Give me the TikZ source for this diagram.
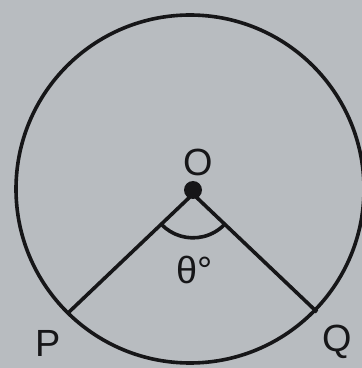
\documentclass[tikz,border=0pt]{standalone}
\usepackage{fontspec}
\setmainfont{Liberation Sans}
\usetikzlibrary{angles}
\definecolor{bg}{RGB}{184,188,192}
\definecolor{ink}{RGB}{22,22,24}
\tikzset{
  line/.style={draw=ink, line width=3.6bp},
  lbl/.style={text=ink, font=\fontsize{38}{40}\selectfont, inner sep=0pt},
}
\begin{document}
\begin{tikzpicture}[x=1bp,y=1bp]
\fill[bg] (0,0) rectangle (362,368);
\useasboundingbox (0,0) rectangle (362,368);
\coordinate (C) at (190,179);
\coordinate (O) at (193,174);
\coordinate (P) at (68,55);
\coordinate (Q) at (317,56);
\draw[line] (C) circle[radius=174];
\draw[line, line join=round] (P) -- (O) -- (Q);
\fill[ink] (O) ++(0,4) circle[radius=9];
\pic[draw=ink, line width=3.6bp, angle radius=44] {angle = P--O--Q};
\node[lbl] (Olbl) at (198,206) {O};
\node[lbl] (th) at (195,98) {θ°};
\node[lbl] (Plbl) at (48,25) {P};
\node[lbl] (Qlbl) at (337,26) {Q};
\end{tikzpicture}
\end{document}
